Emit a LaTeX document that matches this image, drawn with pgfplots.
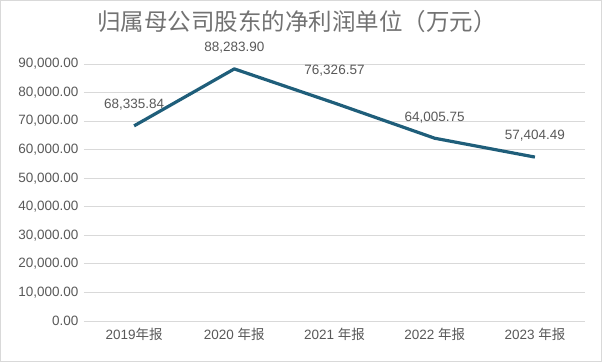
\documentclass[border=0pt]{standalone}
\usepackage{pgfplots}
\pgfplotsset{compat=1.18}
\usepackage{fontspec}
\setmainfont{Liberation Sans}
\newfontfamily\cjk{Noto Sans CJK SC}
\definecolor{linec}{HTML}{1F5E7A}
\definecolor{txt}{HTML}{595959}
\definecolor{gridc}{HTML}{D9D9D9}
\begin{document}
\begin{tikzpicture}
\useasboundingbox (-84pt,-41pt) rectangle (518pt,321pt);
\draw[gridc, line width=0.8pt] (-83.6pt,-40.6pt) rectangle (517.6pt,320.6pt);
\begin{axis}[
  at={(0,0)}, anchor=south west,
  scale only axis, width=501pt, height=257pt,
  xmin=-0.5, xmax=4.5, ymin=0, ymax=90000,
  xtick={0,1,2,3,4},
  xticklabels={2019{\cjk 年报}, 2020 {\cjk 年报}, 2021 {\cjk 年报}, 2022 {\cjk 年报}, 2023 {\cjk 年报}},
  ytick={0,10000,...,90000},
  scaled y ticks=false,
  yticklabel style={/pgf/number format/fixed, /pgf/number format/fixed zerofill, /pgf/number format/precision=2, /pgf/number format/1000 sep={,}, /pgf/number format/assume math mode=true, xshift=-2pt},
  ticklabel style={font=\fontsize{13.5}{15}\selectfont, text=txt},
  axis line style={draw=none},
  major tick length=0pt,
  ymajorgrids, xmajorgrids=false, grid style={draw=gridc, line width=0.8pt},
  xticklabel style={yshift=-4pt},
  clip=false,
]
\addplot[linec, line width=3.2pt, line join=round,
  nodes near coords, point meta=explicit symbolic,
  visualization depends on={\thisrow{s} \as \myshift},
  every node near coord/.append style={font=\fontsize{13.5}{15}\selectfont, text=txt, yshift=\myshift pt}]
  table[x=x, y=y, meta=lab] {
x y lab s
0 68335.84 68,335.84 11
1 88283.90 88,283.90 11
2 76326.57 76,326.57 22
3 64005.75 64,005.75 10
4 57404.49 57,404.49 11
};
\end{axis}
\node[text=txt!85, font=\cjk\fontsize{23.5}{27}\selectfont] at (213pt,299pt) {归属母公司股东的净利润单位（万元）};
\end{tikzpicture}
\end{document}
